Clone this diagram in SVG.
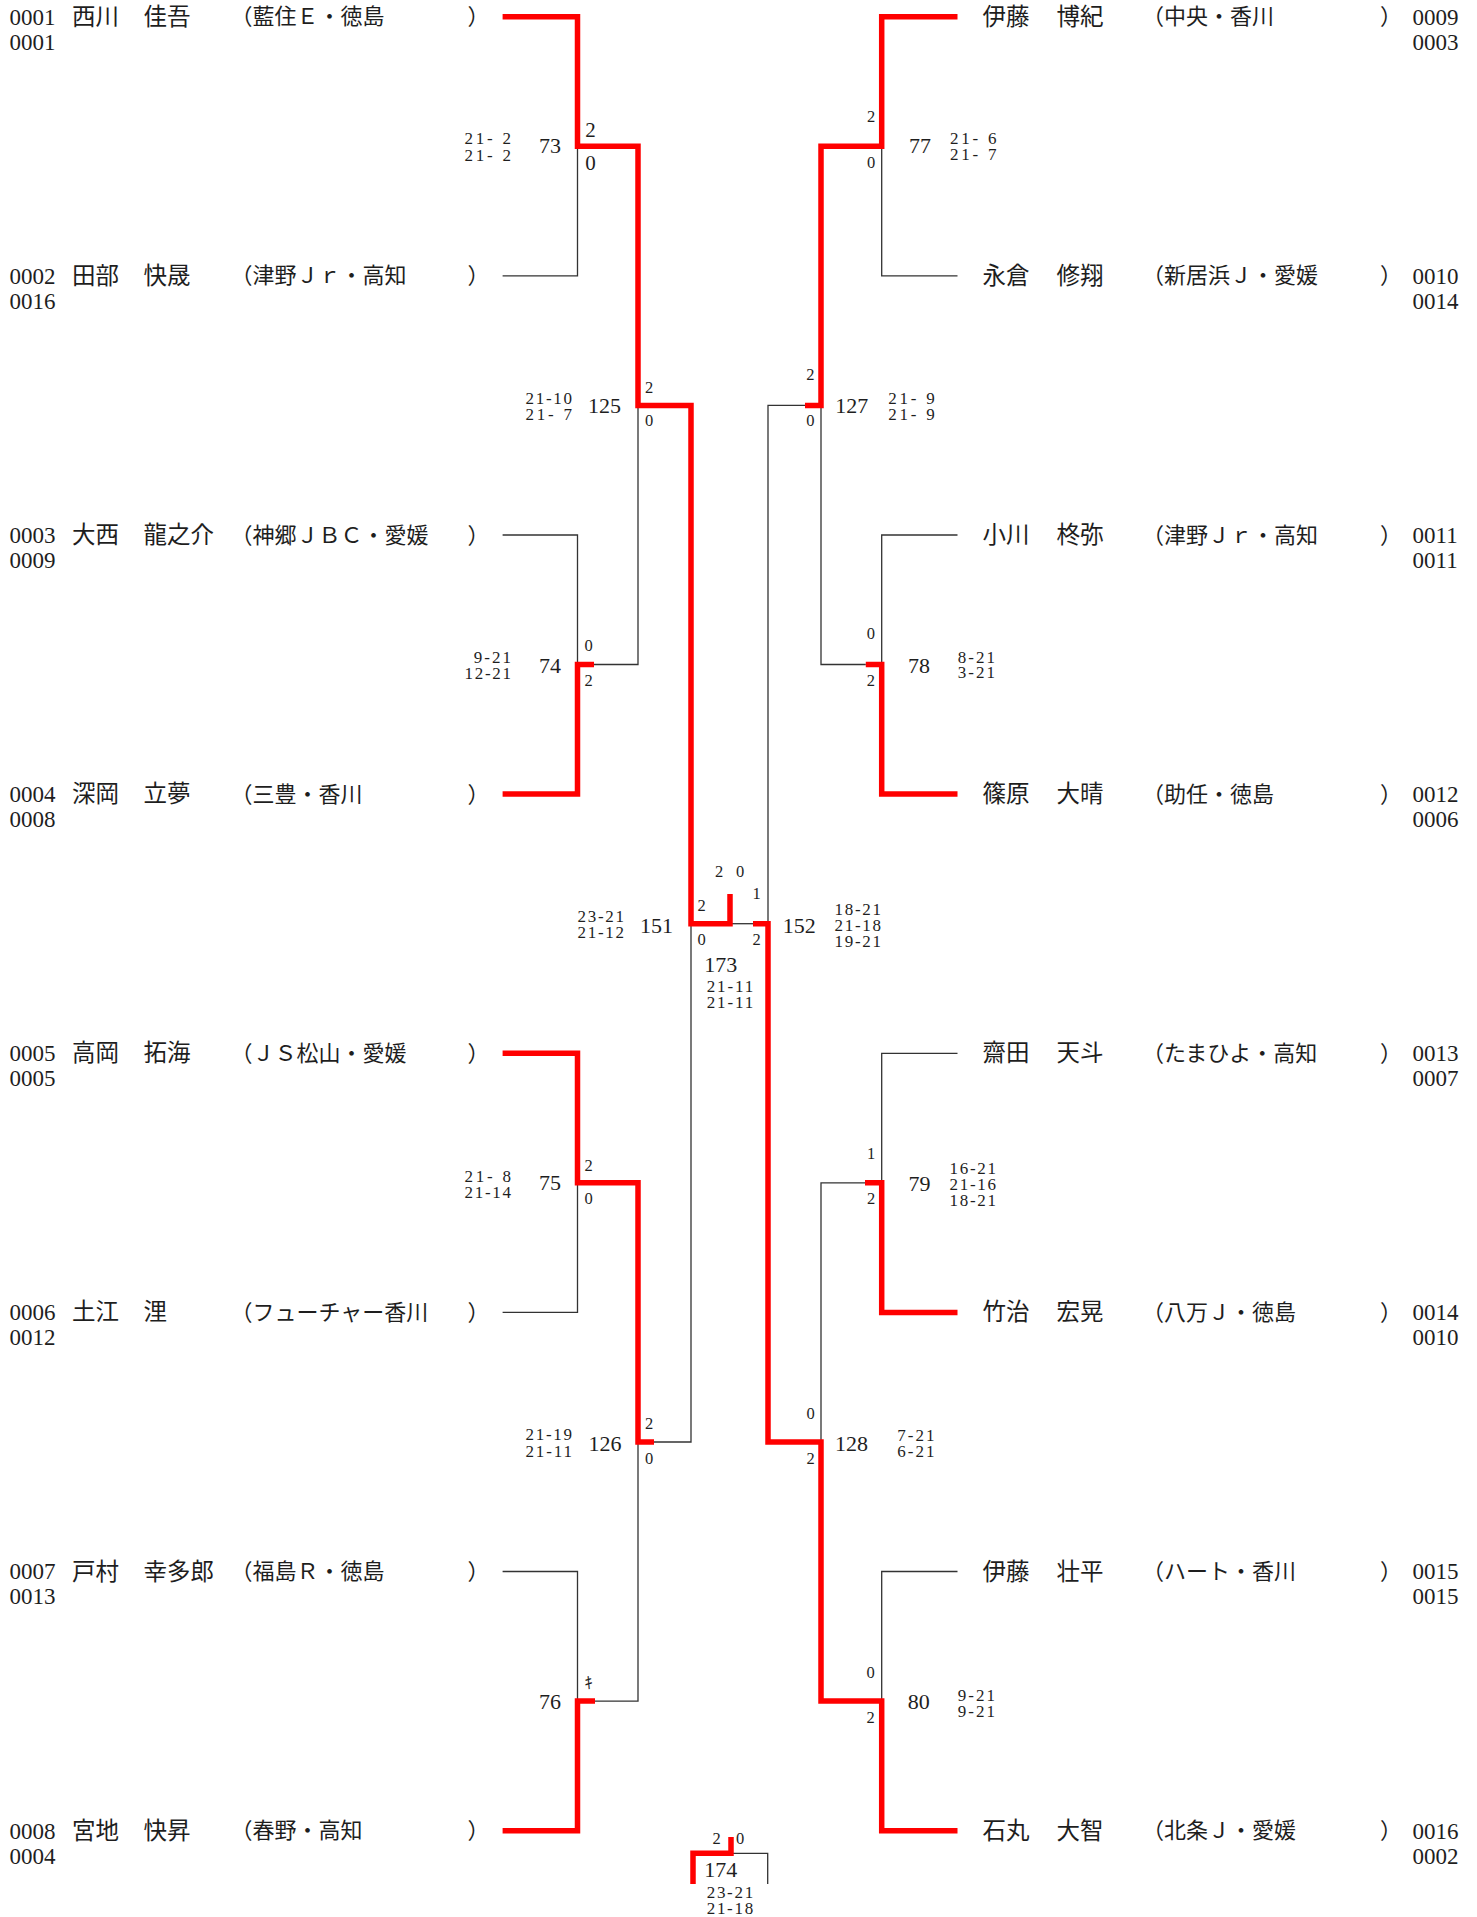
<svg xmlns="http://www.w3.org/2000/svg" width="1477" height="1917" viewBox="0 0 1477 1917">
<style>
text{font-family:"Liberation Serif","Noto Sans CJK JP",serif;fill:#1e1e1e}
.f22{font-size:22px}
.id{font-size:23px}
.nm{font-size:23.5px}
.sc{font-size:17px}
.lb{font-size:16.5px;text-anchor:middle}
.lb21{font-size:21px;text-anchor:middle}
.e{text-anchor:end}
.bk{fill:none;stroke:#333;stroke-width:1.3}
.rd{fill:none;stroke:#ff0000;stroke-width:5.5;stroke-linejoin:miter;stroke-linecap:butt}
</style>
<rect width="1477" height="1917" fill="#fff"/>
<g id="connectors">
<path class="bk" d="M502.6,275.8H577.5V146.3"/>
<path class="bk" d="M502.6,535H577.5V664.5"/>
<path class="bk" d="M594,664.5H638V405.4"/>
<path class="bk" d="M502.6,1312.4H577.5V1182.8"/>
<path class="bk" d="M654,1442H691V923.7"/>
<path class="bk" d="M502.6,1571.5H577.5V1701.1"/>
<path class="bk" d="M595,1701.1H638V1442"/>
<path class="bk" d="M805,405.4H768V923.7"/>
<path class="bk" d="M957.5,275.8H881.7V146.3"/>
<path class="bk" d="M957.5,535H881.7V664.5"/>
<path class="bk" d="M865.8,664.5H821V405.4"/>
<path class="bk" d="M957.5,1053.3H881.7V1182.8"/>
<path class="bk" d="M865,1182.8H821V1442"/>
<path class="bk" d="M957.5,1571.5H881.7V1701.1"/>
<path class="bk" d="M730,923.7H753"/>
<path class="bk" d="M731,1853.3H767.7V1884"/>
<path class="rd" d="M502.6,16.7H577.5V146.3H638V405.4H691V923.7H730V894"/>
<path class="rd" d="M502.6,794.1H577.5V664.5H594"/>
<path class="rd" d="M502.6,1053.3H577.5V1182.8H638V1442H654"/>
<path class="rd" d="M502.6,1830.7H577.5V1701.1H595"/>
<path class="rd" d="M957.5,16.7H881.7V146.3H821V405.4H805"/>
<path class="rd" d="M957.5,794.1H881.7V664.5H865.8"/>
<path class="rd" d="M957.5,1312.4H881.7V1182.8H865"/>
<path class="rd" d="M957.5,1830.7H881.7V1701.1H821V1442H768V923.7H753"/>
<path class="rd" d="M693,1884V1853.3H731V1837"/>
</g>
<g id="p0001"><text class="id" x="9.4" y="24.5">0001</text><text class="id" x="9.4" y="49.5">0001</text><text class="nm" x="72" y="24.7">西川</text><text class="nm" x="143.5" y="24.7">佳吾</text><text class="f22" x="230.5" y="24.2">（藍住Ｅ・徳島</text><text class="f22" x="467.5" y="24.2">）</text></g>
<g id="p0002"><text class="id" x="9.4" y="283.6">0002</text><text class="id" x="9.4" y="308.6">0016</text><text class="nm" x="72" y="283.8">田部</text><text class="nm" x="143.5" y="283.8">快晟</text><text class="f22" x="230.5" y="283.3">（津野Ｊｒ・高知</text><text class="f22" x="467.5" y="283.3">）</text></g>
<g id="p0003"><text class="id" x="9.4" y="542.8">0003</text><text class="id" x="9.4" y="567.8">0009</text><text class="nm" x="72" y="543">大西</text><text class="nm" x="143.5" y="543">龍之介</text><text class="f22" x="230.5" y="542.5">（神郷ＪＢＣ・愛媛</text><text class="f22" x="467.5" y="542.5">）</text></g>
<g id="p0004"><text class="id" x="9.4" y="801.9">0004</text><text class="id" x="9.4" y="826.9">0008</text><text class="nm" x="72" y="802.1">深岡</text><text class="nm" x="143.5" y="802.1">立夢</text><text class="f22" x="230.5" y="801.6">（三豊・香川</text><text class="f22" x="467.5" y="801.6">）</text></g>
<g id="p0005"><text class="id" x="9.4" y="1061.1">0005</text><text class="id" x="9.4" y="1086.1">0005</text><text class="nm" x="72" y="1061.3">高岡</text><text class="nm" x="143.5" y="1061.3">拓海</text><text class="f22" x="230.5" y="1060.8">（ＪＳ松山・愛媛</text><text class="f22" x="467.5" y="1060.8">）</text></g>
<g id="p0006"><text class="id" x="9.4" y="1320.2">0006</text><text class="id" x="9.4" y="1345.2">0012</text><text class="nm" x="72" y="1320.4">土江</text><text class="nm" x="143.5" y="1320.4">浬</text><text class="f22" x="230.5" y="1319.9">（フューチャー香川</text><text class="f22" x="467.5" y="1319.9">）</text></g>
<g id="p0007"><text class="id" x="9.4" y="1579.3">0007</text><text class="id" x="9.4" y="1604.3">0013</text><text class="nm" x="72" y="1579.5">戸村</text><text class="nm" x="143.5" y="1579.5">幸多郎</text><text class="f22" x="230.5" y="1579">（福島Ｒ・徳島</text><text class="f22" x="467.5" y="1579">）</text></g>
<g id="p0008"><text class="id" x="9.4" y="1838.5">0008</text><text class="id" x="9.4" y="1863.5">0004</text><text class="nm" x="72" y="1838.7">宮地</text><text class="nm" x="143.5" y="1838.7">快昇</text><text class="f22" x="230.5" y="1838.2">（春野・高知</text><text class="f22" x="467.5" y="1838.2">）</text></g>
<g id="p0009"><text class="nm" x="982.5" y="24.7">伊藤</text><text class="nm" x="1056.5" y="24.7">博紀</text><text class="f22" x="1142" y="24.2">（中央・香川</text><text class="f22" x="1380" y="24.2">）</text><text class="id" x="1412.5" y="24.5">0009</text><text class="id" x="1412.5" y="49.5">0003</text></g>
<g id="p0010"><text class="nm" x="982.5" y="283.8">永倉</text><text class="nm" x="1056.5" y="283.8">修翔</text><text class="f22" x="1142" y="283.3">（新居浜Ｊ・愛媛</text><text class="f22" x="1380" y="283.3">）</text><text class="id" x="1412.5" y="283.6">0010</text><text class="id" x="1412.5" y="308.6">0014</text></g>
<g id="p0011"><text class="nm" x="982.5" y="543">小川</text><text class="nm" x="1056.5" y="543">柊弥</text><text class="f22" x="1142" y="542.5">（津野Ｊｒ・高知</text><text class="f22" x="1380" y="542.5">）</text><text class="id" x="1412.5" y="542.8">0011</text><text class="id" x="1412.5" y="567.8">0011</text></g>
<g id="p0012"><text class="nm" x="982.5" y="802.1">篠原</text><text class="nm" x="1056.5" y="802.1">大晴</text><text class="f22" x="1142" y="801.6">（助任・徳島</text><text class="f22" x="1380" y="801.6">）</text><text class="id" x="1412.5" y="801.9">0012</text><text class="id" x="1412.5" y="826.9">0006</text></g>
<g id="p0013"><text class="nm" x="982.5" y="1061.3">齋田</text><text class="nm" x="1056.5" y="1061.3">天斗</text><text class="f22" x="1142" y="1060.8">（たまひよ・高知</text><text class="f22" x="1380" y="1060.8">）</text><text class="id" x="1412.5" y="1061.1">0013</text><text class="id" x="1412.5" y="1086.1">0007</text></g>
<g id="p0014"><text class="nm" x="982.5" y="1320.4">竹治</text><text class="nm" x="1056.5" y="1320.4">宏晃</text><text class="f22" x="1142" y="1319.9">（八万Ｊ・徳島</text><text class="f22" x="1380" y="1319.9">）</text><text class="id" x="1412.5" y="1320.2">0014</text><text class="id" x="1412.5" y="1345.2">0010</text></g>
<g id="p0015"><text class="nm" x="982.5" y="1579.5">伊藤</text><text class="nm" x="1056.5" y="1579.5">壮平</text><text class="f22" x="1142" y="1579">（ハート・香川</text><text class="f22" x="1380" y="1579">）</text><text class="id" x="1412.5" y="1579.3">0015</text><text class="id" x="1412.5" y="1604.3">0015</text></g>
<g id="p0016"><text class="nm" x="982.5" y="1838.7">石丸</text><text class="nm" x="1056.5" y="1838.7">大智</text><text class="f22" x="1142" y="1838.2">（北条Ｊ・愛媛</text><text class="f22" x="1380" y="1838.2">）</text><text class="id" x="1412.5" y="1838.5">0016</text><text class="id" x="1412.5" y="1863.5">0002</text></g>
<g id="m73"><text class="f22 e" x="561" y="153.2">73</text><text class="sc e" x="511" y="144.1" textLength="46.5">21- 2</text><text class="sc e" x="511" y="160.8" textLength="46.5">21- 2</text><text class="lb21" x="590.5" y="137.1">2</text><text class="lb21" x="590.5" y="170.1">0</text></g>
<g id="m74"><text class="f22 e" x="561" y="672.5">74</text><text class="sc e" x="511" y="662.5" textLength="37.2">9-21</text><text class="sc e" x="511" y="678.5" textLength="46.5">12-21</text><text class="lb" x="588.5" y="651.3">0</text><text class="lb" x="588.5" y="685.6">2</text></g>
<g id="m75"><text class="f22 e" x="561" y="1190.2">75</text><text class="sc e" x="511" y="1181.8" textLength="46.5">21- 8</text><text class="sc e" x="511" y="1197.5" textLength="46.5">21-14</text><text class="lb" x="588.5" y="1170.6">2</text><text class="lb" x="588.5" y="1203.9">0</text></g>
<g id="m76"><text class="f22 e" x="561" y="1709.2">76</text><text class="lb" x="588.5" y="1688.6">ｷ</text></g>
<g id="m125"><text class="f22 e" x="621" y="412.5">125</text><text class="sc e" x="572" y="404.1" textLength="46.5">21-10</text><text class="sc e" x="572" y="419.8" textLength="46.5">21- 7</text><text class="lb" x="649" y="392.9">2</text><text class="lb" x="649" y="425.6">0</text></g>
<g id="m126"><text class="f22 e" x="621.4" y="1450.8">126</text><text class="sc e" x="572" y="1440.1" textLength="46.5">21-19</text><text class="sc e" x="572" y="1456.5" textLength="46.5">21-11</text><text class="lb" x="649" y="1428.9">2</text><text class="lb" x="649" y="1463.9">0</text></g>
<g id="m151"><text class="f22 e" x="673" y="932.5">151</text><text class="sc e" x="624" y="922.1" textLength="46.5">23-21</text><text class="sc e" x="624" y="938.3" textLength="46.5">21-12</text><text class="lb" x="701.7" y="910.6">2</text><text class="lb" x="701.7" y="944.6">0</text></g>
<g id="m77"><text class="f22" x="909" y="153.2">77</text><text class="sc e" x="996.5" y="144.1" textLength="46.5">21- 6</text><text class="sc e" x="996.5" y="160.1" textLength="46.5">21- 7</text><text class="lb" x="871" y="122.3">2</text><text class="lb" x="871" y="167.9">0</text></g>
<g id="m78"><text class="f22" x="908" y="672.5">78</text><text class="sc e" x="995" y="662.5" textLength="37.2">8-21</text><text class="sc e" x="995" y="678.1" textLength="37.2">3-21</text><text class="lb" x="870.8" y="638.9">0</text><text class="lb" x="870.8" y="685.6">2</text></g>
<g id="m79"><text class="f22" x="908.5" y="1190.8">79</text><text class="sc e" x="996" y="1173.5" textLength="46.5">16-21</text><text class="sc e" x="996" y="1189.8" textLength="46.5">21-16</text><text class="sc e" x="996" y="1205.8" textLength="46.5">18-21</text><text class="lb" x="871.2" y="1158.9">1</text><text class="lb" x="871.2" y="1203.9">2</text></g>
<g id="m80"><text class="f22" x="907.7" y="1709.2">80</text><text class="sc e" x="995" y="1700.8" textLength="37.2">9-21</text><text class="sc e" x="995" y="1716.5" textLength="37.2">9-21</text><text class="lb" x="870.7" y="1677.9">0</text><text class="lb" x="870.7" y="1723.3">2</text></g>
<g id="m127"><text class="f22" x="835.2" y="412.5">127</text><text class="sc e" x="934.7" y="404.1" textLength="46.5">21- 9</text><text class="sc e" x="934.7" y="419.8" textLength="46.5">21- 9</text><text class="lb" x="810.4" y="379.9">2</text><text class="lb" x="810.4" y="425.6">0</text></g>
<g id="m128"><text class="f22" x="835" y="1450.8">128</text><text class="sc e" x="934.5" y="1440.8" textLength="37.2">7-21</text><text class="sc e" x="934.5" y="1456.5" textLength="37.2">6-21</text><text class="lb" x="810.7" y="1418.6">0</text><text class="lb" x="810.7" y="1463.9">2</text></g>
<g id="m152"><text class="f22" x="782.7" y="932.5">152</text><text class="sc e" x="881" y="915.1" textLength="46.5">18-21</text><text class="sc e" x="881" y="930.8" textLength="46.5">21-18</text><text class="sc e" x="881" y="946.5" textLength="46.5">19-21</text><text class="lb" x="756.7" y="898.6">1</text><text class="lb" x="756.7" y="944.6">2</text></g>
<g id="m173"><text class="f22" x="704.3" y="971.8">173</text><text class="sc" x="706.7" y="991.5" textLength="46.5">21-11</text><text class="sc" x="706.7" y="1007.5" textLength="46.5">21-11</text><text class="lb" x="719" y="877.3">2</text><text class="lb" x="740" y="877.3">0</text></g>
<g id="m174"><text class="f22" x="704.3" y="1876.5">174</text><text class="sc" x="706.7" y="1898.3" textLength="46.5">23-21</text><text class="sc" x="706.7" y="1914" textLength="46.5">21-18</text><text class="lb" x="716.7" y="1843.6">2</text><text class="lb" x="740" y="1843.6">0</text></g>
</svg>
